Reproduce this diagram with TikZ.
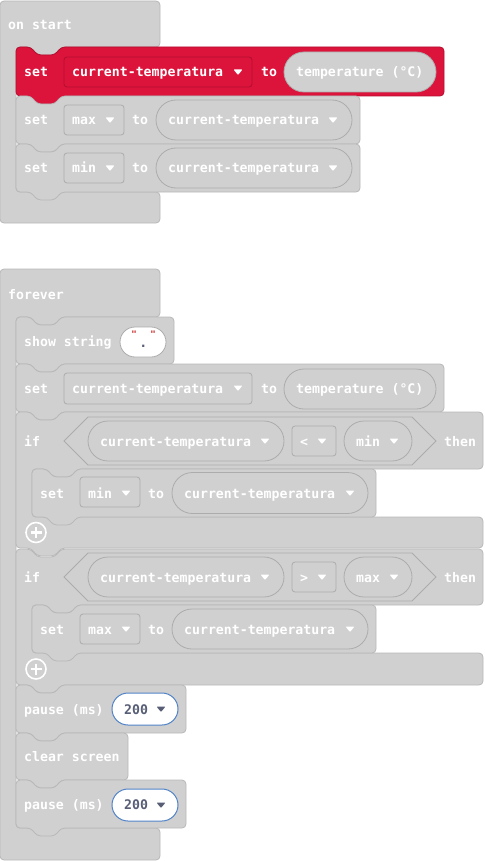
\documentclass[tikz,border=0pt]{standalone}
\usepackage{fontspec}
\newfontfamily\blkfont{DejaVu Sans Mono}
\definecolor{blk}{RGB}{208,208,208}
\definecolor{blkedge}{RGB}{184,184,184}
\definecolor{pilledge}{RGB}{172,172,172}
\definecolor{varred}{RGB}{220,20,60}
\definecolor{varrededge}{RGB}{178,14,46}
\definecolor{numedge}{RGB}{80,130,200}
\definecolor{numtext}{RGB}{87,94,117}
\definecolor{strquote}{RGB}{196,30,30}
\tikzset{
  lbl/.style={font=\blkfont\bfseries\fontsize{13.2}{15}\selectfont, text=white, anchor=base west, inner sep=0pt},
  blockshape/.style={fill=blk, draw=blkedge, line width=0.8pt, rounded corners=4pt},
  redshape/.style={fill=varred, draw=varrededge, line width=0.8pt, rounded corners=4pt},
  pillshape/.style={fill=blk, draw=pilledge, line width=0.8pt},
  boxshape/.style={fill=blk, draw=pilledge, line width=0.8pt, rounded corners=3pt}
}
\newcommand\stmtblock[5][blockshape]{%
  \draw[#1] (#2,#3) -- (#2+15,#3) -- (#2+21,#3+8) -- (#2+39,#3+8) -- (#2+45,#3) -- (#2+#4,#3)
    -- (#2+#4,#3+#5) -- (#2+45,#3+#5) -- (#2+39,#3+#5+8) -- (#2+21,#3+#5+8) -- (#2+15,#3+#5) -- (#2,#3+#5) -- cycle;}
\newcommand\ifblock[5]{%
  \draw[blockshape] (#1,#2) -- (#1+15,#2) -- (#1+21,#2+8) -- (#1+39,#2+8) -- (#1+45,#2) -- (#1+467,#2)
    -- (#1+467,#2+#3) -- (#1+61,#2+#3) -- (#1+55,#2+#3+8) -- (#1+37,#2+#3+8) -- (#1+31,#2+#3) -- (#1+16,#2+#3)
    -- (#1+16,#2+#4) -- (#1+467,#2+#4) -- (#1+467,#2+#5) -- (#1+45,#2+#5) -- (#1+39,#2+#5+8) -- (#1+21,#2+#5+8)
    -- (#1+15,#2+#5) -- (#1,#2+#5) -- cycle;}
\newcommand\pill[5][pillshape]{\draw[#1, rounded corners=#5pt] (#2) rectangle (#3,#4);}
\newcommand\drop[3][white]{\fill[#1, rounded corners=0.8pt] (#2-4.5,#3-2.5) -- (#2+4.5,#3-2.5) -- (#2,#3+3) -- cycle;}
\newcommand\addbtn[2]{\draw[white, line width=1.6pt] (#1,#2) circle (10);
  \draw[white, line width=2.6pt] (#1-5.5,#2) -- (#1+5.5,#2) (#1,#2-5.5) -- (#1,#2+5.5);}
\begin{document}
\begin{tikzpicture}[x=1pt,y=-1pt]
\useasboundingbox (0,0) rectangle (484,861);
\draw[blockshape] (0,1) -- (160,1) -- (160,47) -- (61,47) -- (55,55) -- (37,55) -- (31,47) -- (16,47) -- (16,192) -- (160,192) -- (160,223) -- (0,223) -- cycle;
\node[lbl] (onstart) at (8,30) {on start};
\stmtblock[redshape]{16}{47}{428}{49}
\draw[fill=varred, draw=varrededge, line width=0.8pt, rounded corners=3pt] (64,57) rectangle (252,87);
\node[lbl] (set1) at (24,77) {set};
\node[lbl] (var1) at (72,77) {current-temperatura};
\drop{238}{72}
\node[lbl] (to1) at (261,77) {to};
\pill{284,52}{436}{92}{20}
\node[lbl] (temp1) at (296,77) {temperature (°C)};
\stmtblock{16}{96}{344}{48}
\draw[boxshape] (64,105) rectangle (124,135);
\node[lbl] (set2) at (24,125) {set};
\node[lbl] (var2) at (72,125) {max};
\drop{110}{120}
\node[lbl] (to2) at (132,125) {to};
\pill{156,100}{352}{140}{20}
\node[lbl] (val2) at (168,125) {current-temperatura};
\drop{333}{120}
\stmtblock{16}{144}{344}{48}
\draw[boxshape] (64,153) rectangle (124,183);
\node[lbl] (set3) at (24,173) {set};
\node[lbl] (var3) at (72,173) {min};
\drop{110}{168}
\node[lbl] (to3) at (132,173) {to};
\pill{156,148}{352}{188}{20}
\node[lbl] (val3) at (168,173) {current-temperatura};
\drop{333}{168}
\draw[blockshape] (0,269) -- (160,269) -- (160,317) -- (61,317) -- (55,325) -- (37,325) -- (31,317) -- (16,317) -- (16,828) -- (160,828) -- (160,860) -- (0,860) -- cycle;
\node[lbl] (forever) at (8,299) {forever};
\stmtblock{16}{317}{158}{47}
\node[lbl] (show) at (24,346) {show string};
\pill[fill=white, draw=pilledge, line width=0.8pt]{120,327}{166}{357}{15}
\node[font=\blkfont\bfseries\fontsize{9}{9}\selectfont, text=strquote, inner sep=0pt] (lq) at (134,334.5) {"};
\node[font=\blkfont\bfseries\fontsize{9}{9}\selectfont, text=strquote, inner sep=0pt] (rq) at (153,334.5) {"};
\node[font=\blkfont\bfseries\fontsize{13.2}{15}\selectfont, text=numtext, anchor=base, inner sep=0pt] (dot) at (143.3,347) {.};
\stmtblock{16}{364}{428}{48}
\draw[boxshape] (64,373) rectangle (252,404);
\node[lbl] (set4) at (24,393) {set};
\node[lbl] (var4) at (72,393) {current-temperatura};
\drop{238}{388}
\node[lbl] (to4) at (261,393) {to};
\pill{284,369}{436}{409}{20}
\node[lbl] (temp4) at (296,393) {temperature (°C)};
\ifblock{16}{412}{57}{105}{136}
\node[lbl] (if1) at (24,446) {if};
\draw[fill=blk, draw=pilledge, line width=0.8pt] (64,441) -- (88,417) -- (412,417) -- (436,441) -- (412,465) -- (88,465) -- cycle;
\pill{88,421}{284}{461}{20}
\node[lbl] (cmpa1) at (100,446) {current-temperatura};
\drop{265}{441}
\draw[boxshape] (292,426) rectangle (336,456);
\node[lbl] (op1) at (300,446) {<};
\drop{322}{441}
\pill{344,421}{412}{461}{20}
\node[lbl] (cmpb1) at (356,446) {min};
\drop{394}{441}
\node[lbl] (then1) at (444,446) {then};
\stmtblock{32}{469}{344}{48}
\draw[boxshape] (80,477) rectangle (140,507);
\node[lbl] (set5) at (40,498) {set};
\node[lbl] (var5) at (88,498) {min};
\drop{126}{493}
\node[lbl] (to5) at (148,498) {to};
\pill{172,472.5}{368}{513.5}{20.5}
\node[lbl] (val5) at (184,498) {current-temperatura};
\drop{350}{493}
\addbtn{36}{532.5}
\ifblock{16}{549}{56}{104}{136}
\node[lbl] (if2) at (24,582) {if};
\draw[fill=blk, draw=pilledge, line width=0.8pt] (64,577) -- (88,553) -- (412,553) -- (436,577) -- (412,601) -- (88,601) -- cycle;
\pill{88,557}{284}{597}{20}
\node[lbl] (cmpa2) at (100,582) {current-temperatura};
\drop{265}{577}
\draw[boxshape] (292,562) rectangle (336,592);
\node[lbl] (op2) at (300,582) {>};
\drop{322}{577}
\pill{344,557}{412}{597}{20}
\node[lbl] (cmpb2) at (356,582) {max};
\drop{394}{577}
\node[lbl] (then2) at (444,582) {then};
\stmtblock{32}{605}{344}{48}
\draw[boxshape] (80,614) rectangle (140,644);
\node[lbl] (set6) at (40,634) {set};
\node[lbl] (var6) at (88,634) {max};
\drop{126}{629}
\node[lbl] (to6) at (148,634) {to};
\pill{172,609}{368}{649}{20}
\node[lbl] (val6) at (184,634) {current-temperatura};
\drop{350}{629}
\addbtn{36}{669}
\stmtblock{16}{685}{170}{48}
\node[lbl] (pause1) at (24,714) {pause (ms)};
\pill[fill=white, draw=numedge, line width=1pt]{112,693}{178}{725}{16}
\node[lbl, text=numtext] (ms1) at (124,714) {200};
\drop[numtext]{161}{709}
\stmtblock{16}{733}{112}{47}
\node[lbl] (clear) at (24,761) {clear screen};
\stmtblock{16}{780}{170}{48}
\node[lbl] (pause2) at (24,809) {pause (ms)};
\pill[fill=white, draw=numedge, line width=1pt]{112,789}{178}{821}{16}
\node[lbl, text=numtext] (ms2) at (124,809) {200};
\drop[numtext]{161}{805}
\end{tikzpicture}
\end{document}
